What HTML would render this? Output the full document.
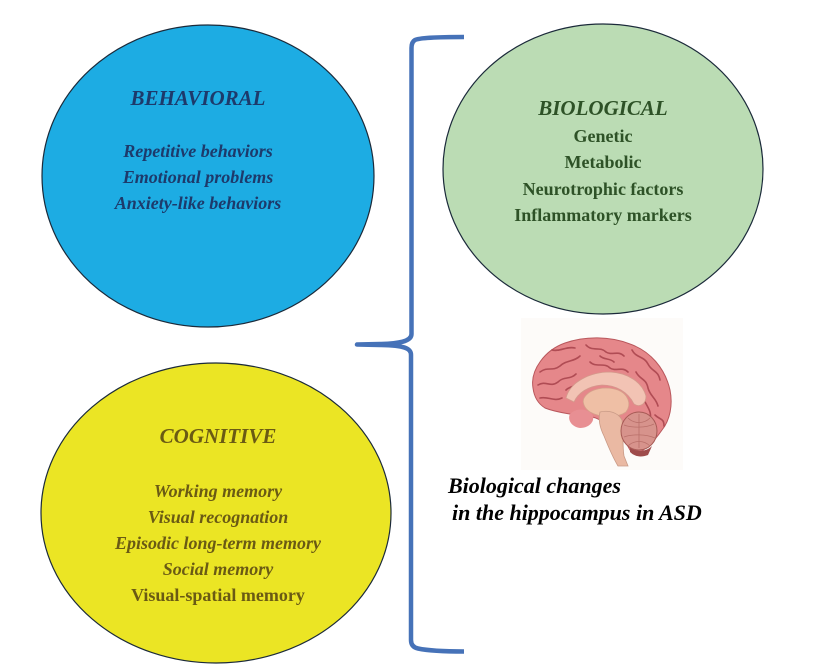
<!DOCTYPE html>
<html>
<head>
<meta charset="utf-8">
<style>
html,body{margin:0;padding:0;background:#fff;}
body{width:813px;height:670px;overflow:hidden;}
svg{display:block;}
text{font-family:"Liberation Serif",serif;font-weight:bold;}
</style>
</head>
<body>
<svg width="813" height="670" viewBox="0 0 813 670" xmlns="http://www.w3.org/2000/svg">
  <rect width="813" height="670" fill="#ffffff"/>

  <!-- Behavioral ellipse -->
  <ellipse cx="208" cy="176" rx="166" ry="151" fill="#1dace3" stroke="#1b2a3a" stroke-width="1.2"/>
  <text x="198" y="105" text-anchor="middle" font-size="21" font-style="italic" fill="#1d3a6b">BEHAVIORAL</text>
  <text x="198" y="157" text-anchor="middle" font-size="18" font-style="italic" fill="#1d3a6b">Repetitive behaviors</text>
  <text x="198" y="183" text-anchor="middle" font-size="18" font-style="italic" fill="#1d3a6b">Emotional problems</text>
  <text x="198" y="209" text-anchor="middle" font-size="18" font-style="italic" fill="#1d3a6b">Anxiety-like behaviors</text>

  <!-- Biological ellipse -->
  <ellipse cx="603" cy="169" rx="160" ry="145" fill="#bbdcb4" stroke="#1b2a3a" stroke-width="1.2"/>
  <text x="603" y="115" text-anchor="middle" font-size="21" font-style="italic" fill="#2e5227">BIOLOGICAL</text>
  <text x="603" y="142" text-anchor="middle" font-size="18" fill="#2e5227">Genetic</text>
  <text x="603" y="168" text-anchor="middle" font-size="18" fill="#2e5227">Metabolic</text>
  <text x="603" y="195" text-anchor="middle" font-size="18" fill="#2e5227">Neurotrophic factors</text>
  <text x="603" y="221" text-anchor="middle" font-size="18" fill="#2e5227">Inflammatory markers</text>

  <!-- Cognitive ellipse -->
  <ellipse cx="216" cy="513" rx="175" ry="150" fill="#ebe524" stroke="#1b2a3a" stroke-width="1.2"/>
  <text x="218" y="443" text-anchor="middle" font-size="21" font-style="italic" fill="#6a5a14">COGNITIVE</text>
  <text x="218" y="497" text-anchor="middle" font-size="18" font-style="italic" fill="#6a5a14">Working memory</text>
  <text x="218" y="523" text-anchor="middle" font-size="18" font-style="italic" fill="#6a5a14">Visual recognation</text>
  <text x="218" y="549" text-anchor="middle" font-size="18" font-style="italic" fill="#6a5a14">Episodic long-term memory</text>
  <text x="218" y="575" text-anchor="middle" font-size="18" font-style="italic" fill="#6a5a14">Social memory</text>
  <text x="218" y="601" text-anchor="middle" font-size="18" fill="#6a5a14">Visual-spatial memory</text>

  <!-- Bracket -->
  <path d="M464,37 C440,37 420,37.5 415,40 Q411.5,42 411.5,48 L411.5,334 C411.5,340 404,343.5 380,344 L357,344.5 L380,345 C404,345.5 411,348 411,355 L411,640 Q411,647 418,648.5 C430,651 445,651.5 464,651.5"
        fill="none" stroke="#4672b8" stroke-width="4.5" stroke-linejoin="round"/>

  <!-- faint image background -->
  <rect x="521" y="318" width="162" height="152" fill="#fdfbf9"/>

  <!-- Brain -->
  <g>
    <!-- cerebrum -->
    <path d="M533,388 C530,370 545,350 565,343 C585,336 610,336 630,344 C650,351 665,368 670,390 C673,405 670,420 662,430 C655,440 648,448 640,452 L630,450 C625,440 615,428 600,420 C590,414 582,418 575,415 C565,413 555,412 545,408 C537,403 534,396 533,388 Z"
          fill="#e5878a" stroke="#b9575c" stroke-width="1"/>
    <!-- folds -->
    <g fill="none" stroke="#b04c54" stroke-width="1.6" stroke-linecap="round">
      <path d="M540,372 C548,366 552,372 560,366 C566,360 574,362 580,356"/>
      <path d="M552,350 C560,352 566,346 575,348"/>
      <path d="M586,345 C592,352 600,346 606,352 C612,356 618,350 624,356"/>
      <path d="M632,350 C636,358 644,356 648,364 C652,372 658,370 660,380"/>
      <path d="M538,385 C546,380 550,388 558,382 C564,376 570,380 576,374"/>
      <path d="M590,362 C596,368 604,362 610,368 C616,372 622,366 628,372"/>
      <path d="M636,372 C640,380 646,378 648,388 C650,396 656,398 658,406"/>
      <path d="M540,398 C548,396 554,402 562,398"/>
      <path d="M644,400 C648,408 652,412 650,420"/>
      <path d="M600,356 C604,360 610,358 614,362"/>
      <path d="M566,390 C572,384 580,388 586,380"/>
      <path d="M655,415 C660,420 664,418 664,426"/>
    </g>
    <!-- corpus callosum / inner region -->
    <path d="M566,398 C570,382 590,372 610,372 C628,373 642,382 646,396 C646,404 640,408 634,404 C628,392 616,385 602,385 C588,386 578,393 574,402 Z"
          fill="#f2c3b4" stroke="#d49a8c" stroke-width="0.8"/>
    <!-- thalamus -->
    <path d="M584,398 C590,388 606,386 618,390 C628,394 632,404 626,412 C618,418 600,418 590,412 C584,408 582,402 584,398 Z"
          fill="#efbfa5" stroke="#d6a08a" stroke-width="0.8"/>
    <!-- hypothalamus / pink region -->
    <path d="M570,414 C576,408 586,408 592,414 C596,420 590,428 580,428 C572,427 567,420 570,414 Z" fill="#e88f93"/>
    <!-- brainstem -->
    <path d="M600,412 C608,410 618,412 622,420 C624,432 622,444 624,456 L628,466 L618,466 C612,456 608,446 604,436 C600,428 598,420 600,412 Z"
          fill="#eab9a3" stroke="#c99a86" stroke-width="0.8"/>
    <!-- cerebellum -->
    <ellipse cx="639" cy="431" rx="18" ry="19" fill="#d7938c" stroke="#a65a55" stroke-width="1"/>
    <g fill="none" stroke="#b9706a" stroke-width="0.8">
      <path d="M639,414 L639,448"/>
      <path d="M624,425 C632,428 646,428 654,424"/>
      <path d="M624,437 C632,434 646,434 655,438"/>
      <path d="M628,418 C634,424 644,424 650,418"/>
      <path d="M628,446 C634,440 644,440 650,446"/>
    </g>
    <path d="M630,448 C638,452 646,452 652,446 L648,455 C640,458 634,456 630,452 Z" fill="#9e4b4b"/>
  </g>

  <!-- Caption -->
  <text x="448" y="493" font-size="22" font-style="italic" fill="#000">Biological changes</text>
  <text x="452" y="520" font-size="22" font-style="italic" fill="#000">in the hippocampus in ASD</text>
</svg>
</body>
</html>
